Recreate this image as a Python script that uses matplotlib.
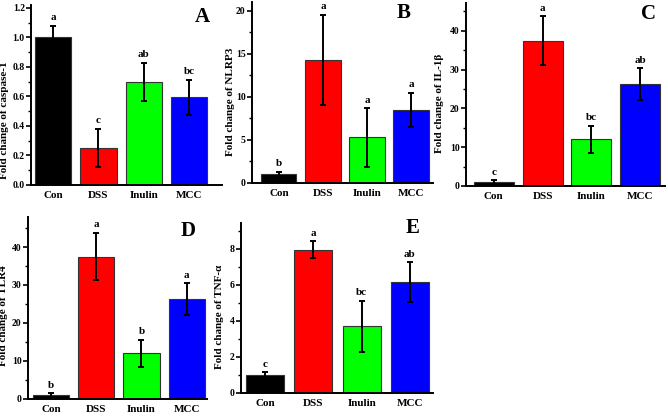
import matplotlib
matplotlib.use("Agg")
import matplotlib.pyplot as plt
from matplotlib.ticker import MultipleLocator, FormatStrFormatter

plt.rcParams['font.family'] = ['Liberation Serif', 'DejaVu Serif']
plt.rcParams['font.weight'] = 'bold'

groups = ["Con", "DSS", "Inulin", "MCC"]
colors = ["#000000", "#ff0000", "#00ff00", "#0000ff"]

casp_mean = [1.0, 0.25, 0.70, 0.595]
casp_err = [0.08, 0.13, 0.13, 0.12]
casp_sig = ["a", "c", "ab", "bc"]

nlrp3_mean = [1.0, 14.3, 5.3, 8.45]
nlrp3_err = [0.3, 5.2, 3.4, 2.0]
nlrp3_sig = ["b", "a", "a", "a"]

il1b_mean = [1.0, 37.5, 12.0, 26.3]
il1b_err = [0.5, 6.3, 3.5, 4.1]
il1b_sig = ["c", "a", "bc", "ab"]

tlr4_mean = [1.0, 37.5, 12.0, 26.3]
tlr4_err = [0.5, 6.3, 3.6, 4.1]
tlr4_sig = ["b", "a", "b", "a"]

tnf_mean = [1.0, 7.95, 3.7, 6.15]
tnf_err = [0.15, 0.47, 1.42, 1.12]
tnf_sig = ["c", "a", "bc", "ab"]

fig = plt.figure(figsize=(6.68, 4.16), dpi=100)

# rect, data, err, sig, ylabel, ytop, xlim, major, minor, fmt, letter, letter pos(px), ylabel coords, bar width
panels = [
    ([0.0464, 0.5553, 0.286, 0.4327], casp_mean, casp_err, casp_sig, "Fold change of caspase-1",
     1.22, (-0.49, 3.73), 0.2, 0.1, "%.1f", "A", (202, 17), (-0.115, 0.36), 0.8),
    ([0.3772, 0.5601, 0.271, 0.435], nlrp3_mean, nlrp3_err, nlrp3_sig, "Fold change of NLRP3",
     21, (-0.61, 3.5), 5, 2.5, "%d", "B", (404, 13), (-0.094, 0.45), 0.8),
    ([0.6976, 0.5529, 0.298, 0.44], il1b_mean, il1b_err, il1b_sig, "Fold change of IL-1\u03b2",
     47.2, (-0.57, 3.51), 10, 5, "%d", "C", (648, 14), (-0.11, 0.45), 0.82),
    ([0.0419, 0.0409, 0.268, 0.4375], tlr4_mean, tlr4_err, tlr4_sig, "Fold change of TLR4",
     47.9, (-0.51, 3.45), 10, 5, "%d", "D", (188, 231), (-0.11, 0.46), 0.8),
    ([0.3608, 0.0553, 0.2874, 0.4087], tnf_mean, tnf_err, tnf_sig, "Fold change of TNF-\u03b1",
     9.44, (-0.5, 3.48), 2, 1, "%d", "E", (413, 228), (-0.09, 0.45), 0.79),
]

for rect, mean, err, sig, ylab, ytop, xl, major, minor, fmt, letter, lpos, lab, bw in panels:
    ax = fig.add_axes(rect)
    x = range(len(groups))
    ax.bar(x, mean, width=bw, color=colors, edgecolor="#333333", linewidth=0.8, zorder=2)
    ax.errorbar(x, mean, yerr=err, fmt="none", ecolor="black", elinewidth=1.4,
                capsize=2, capthick=1.4, zorder=3)
    for i in x:
        ax.annotate(sig[i], (i, mean[i] + err[i]), xytext=(0, 2.5), textcoords="offset points",
                    ha="center", va="bottom", fontsize=8, fontweight="bold")
    ax.set_ylim(0, ytop)
    ax.set_xlim(*xl)
    ax.set_xticks(list(x))
    ax.set_xticklabels(groups, fontsize=8, fontweight="bold")
    ax.tick_params(axis="x", length=0, pad=4)
    ax.yaxis.set_major_locator(MultipleLocator(major))
    ax.yaxis.set_minor_locator(MultipleLocator(minor))
    ax.yaxis.set_major_formatter(FormatStrFormatter(fmt))
    ax.tick_params(axis="y", which="major", direction="out", length=3.5, width=1.2,
                   labelsize=7, pad=1)
    ax.tick_params(axis="y", which="minor", direction="out", length=2, width=1.0)
    for s in ["top", "right"]:
        ax.spines[s].set_visible(False)
    for s in ["left", "bottom"]:
        ax.spines[s].set_linewidth(1.4)
    ax.set_ylabel(ylab, fontsize=8, fontweight="bold")
    ax.yaxis.set_label_coords(*lab)
    fig.text(lpos[0] / 668, 1 - lpos[1] / 416, letter, ha="center", va="center",
             fontsize=15, fontweight="bold")

fig.savefig("out.png", dpi=100)
